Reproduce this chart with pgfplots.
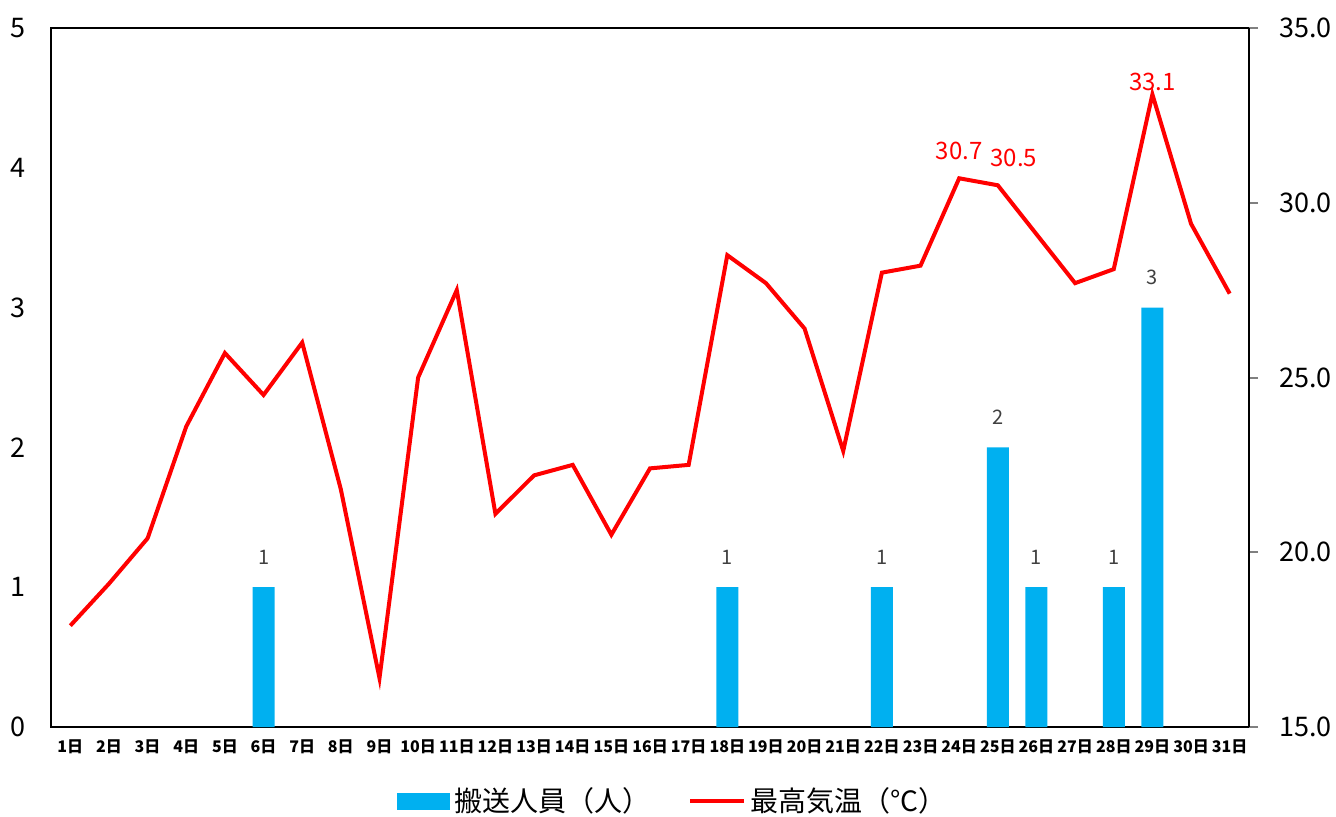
\documentclass[border=0pt]{standalone}
\usepackage{fontspec}
\setmainfont{Noto Sans CJK JP}
\usepackage{pgfplots}
\pgfplotsset{compat=1.18}
\definecolor{barblue}{HTML}{00B0F0}
\definecolor{labgray}{HTML}{404040}

\pgfplotstableread{
day count
6 1
18 1
22 1
25 2
26 1
28 1
29 3
}\transport

\pgfplotstableread{
day temp
1 17.9
2 19.1
3 20.4
4 23.6
5 25.7
6 24.5
7 26.0
8 21.8
9 16.4
10 25.0
11 27.5
12 21.1
13 22.2
14 22.5
15 20.5
16 22.4
17 22.5
18 28.5
19 27.7
20 26.4
21 22.9
22 28.0
23 28.2
24 30.7
25 30.5
26 29.1
27 27.7
28 28.1
29 33.1
30 29.4
31 27.4
}\maxtemp

\begin{document}
\begin{tikzpicture}
\pgfplotsset{
  base/.style={
    scale only axis, width=599pt, height=349.5pt,
    xmin=0.5, xmax=31.5,
    /pgf/number format/assume math mode=true,
    tick label style={font=\fontsize{13.5}{14}\selectfont, text=black},
  },
  templab/.style={draw=none, mark=none, forget plot, nodes near coords,
    point meta=explicit symbolic,
    every node near coord/.append style={font=\fontsize{12}{13}\selectfont, text=red}},
}
\path[use as bounding box] (-25.5pt,-44.5pt) rectangle (642.5pt,363.5pt);

\begin{axis}[base,
    ymin=0, ymax=5, ytick={0,...,5},
    axis line style={line width=1pt},
    major tick length=0pt,
    yticklabel style={xshift=-9pt},
    xtick={1,...,31},
    xticklabels={1日,2日,3日,4日,5日,6日,7日,8日,9日,10日,11日,12日,13日,14日,15日,16日,17日,18日,19日,20日,21日,22日,23日,24日,25日,26日,27日,28日,29日,30日,31日},
    xticklabel style={font=\fontsize{8}{9}\selectfont\bfseries, yshift=-3pt},
    ytick pos=left,
  ]
  \addplot[ybar, bar width=11pt, fill=barblue, draw=none,
    nodes near coords,
    every node near coord/.append style={font=\fontsize{10}{11}\selectfont, text=labgray, yshift=8pt}]
    table[x=day, y=count] {\transport};
\end{axis}

\begin{axis}[base,
    ymin=15, ymax=35, ytick={15,20,...,35},
    axis y line*=right, axis x line=none,
    axis line style={line width=1pt},
    tick align=outside, major tick length=4.5pt,
    ytick style={line width=1pt},
    yticklabel style={/pgf/number format/fixed, /pgf/number format/fixed zerofill,
      /pgf/number format/precision=1, xshift=7pt},
    legend style={at={(311.5pt,-37pt)}, anchor=center, draw=none,
      legend columns=2, font=\fontsize{14}{15}\selectfont,
      /tikz/every even column/.append style={column sep=17pt}},
  ]
  \addlegendimage{legend image code/.code={\fill[barblue] (0pt,-4pt) rectangle (26pt,4pt);}}
  \addlegendentry{搬送人員（人）}
  \addplot[red, line width=2pt, mark=none,
    legend image code/.code={\draw[red, line width=2pt] (0pt,0pt) -- (27pt,0pt);}]
    table[x=day, y=temp] {\maxtemp};
  \addlegendentry{最高気温（°C）}
  \addplot[templab, every node near coord/.append style={yshift=5.5pt}]
    coordinates {(24,30.7) [30.7]};
  \addplot[templab, every node near coord/.append style={yshift=5.5pt, xshift=8pt}]
    coordinates {(25,30.5) [30.5]};
  \addplot[templab, every node near coord/.append style={yshift=-1.5pt}]
    coordinates {(29,33.1) [33.1]};
\end{axis}
\end{tikzpicture}
\end{document}
